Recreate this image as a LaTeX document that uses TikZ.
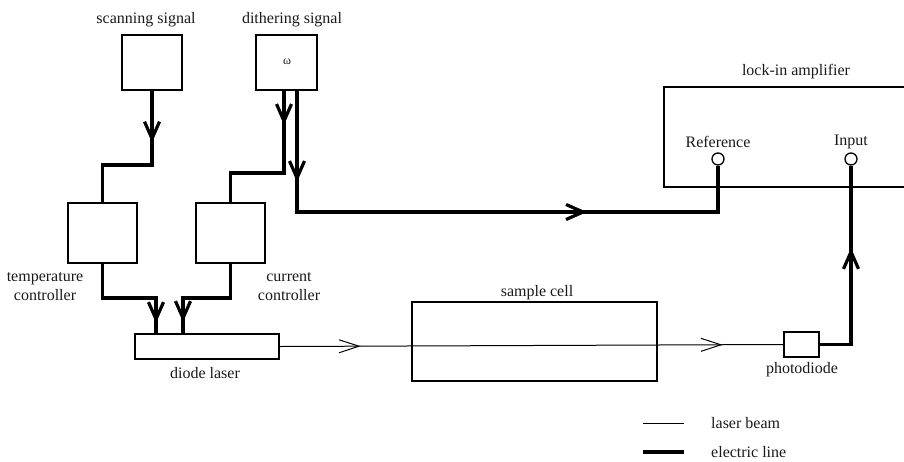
\documentclass[tikz,border=0pt]{standalone}
\usepackage{fontspec}
\setmainfont{Liberation Serif}
\usetikzlibrary{arrows.meta,decorations.markings}

\tikzset{
  box/.style={draw, line width=1.2pt, inner sep=0pt},
  lbl/.style={font=\fontsize{16}{19}\selectfont, inner sep=0pt, align=center, text=black!90},
  eline/.style={line width=3.2pt},
  beam/.style={line width=1pt},
  barb/.tip={Straight Barb[length=17pt,width=15pt]},
  beambarb/.tip={Straight Barb[length=20pt,width=13pt]},
  markarrow/.style={postaction={decorate, decoration={markings,
      mark=at position #1 with {\arrow{barb}}}}},
  beamarrow/.style={postaction={decorate, decoration={markings,
      mark=at position #1 with {\arrow{beambarb}}}}},
  jack/.style={circle, draw, line width=1.3pt, minimum size=12pt, inner sep=0pt},
}

\begin{document}
\begin{tikzpicture}[x=1pt, y=-1pt]
\useasboundingbox (0,0) rectangle (904,461);
\clip (0,0) rectangle (904,461);

% signal generators
\node[box, minimum width=60pt, minimum height=55pt] (scan) at (152,62.5) {};
\node[box, minimum width=61pt, minimum height=55pt] (dither) at (286.5,62.5) {};
\node[lbl, font=\fontsize{12}{13}\selectfont] (omega) at (287,62) {ω};
\node[lbl] (scanlbl) at (146,20) {scanning signal};
\node[lbl] (ditherlbl) at (292,20) {dithering signal};

% controllers
\node[box, minimum width=69pt, minimum height=60pt] (temp) at (102.5,233) {};
\node[box, minimum width=69pt, minimum height=60pt] (curr) at (230.5,233) {};
\node[lbl] (templbl) at (45,287) {temperature\\controller};
\node[lbl] (currlbl) at (289,287) {current\\controller};

% laser, cell, detector
\node[box, minimum width=144pt, minimum height=25pt] (laser) at (207,346.5) {};
\node[lbl] (laserlbl) at (205,373) {diode laser};
\node[box, minimum width=245pt, minimum height=79pt] (cell) at (534.5,341.5) {};
\node[lbl] (celllbl) at (537,293) {sample cell};
\node[box, minimum width=35pt, minimum height=25pt] (pd) at (801.5,344.5) {};
\node[lbl] (pdlbl) at (802,370) {photodiode};

% lock-in amplifier
\node[box, minimum width=246pt, minimum height=100pt] (lockin) at (787,137) {};
\node[lbl] (lockinlbl) at (796,72) {lock-in amplifier};
\node[jack] (refjack) at (718,159) {};
\node[jack] (injack) at (851,159) {};
\node[lbl] (reflbl) at (718,142) {Reference};
\node[lbl] (inlbl) at (851,142) {Input};

% electric lines
\draw[eline, markarrow=52pt] (scan.south) -- (152,165) -| (temp.north);
\draw[eline, markarrow=35pt] (284,90) -- (284,173) -| (curr.north);
\draw[eline, markarrow=92pt, markarrow=412pt] (297,90) -- (297,212) -| (refjack.south);
\draw[eline, markarrow=113pt] (temp.south) |- (156,298) -- (156,334);
\draw[eline, markarrow=106pt] (curr.south) |- (183,298) -- (183,334);
\draw[eline, markarrow=128pt] (pd.east) -| (injack.south);

% laser beam
\draw[beam, beamarrow=81pt, beamarrow=443pt] (laser.east) -- (pd.west);

% legend
\coordinate (lb1) at (643,423);
\coordinate (lb2) at (684,423);
\coordinate (le1) at (643,452);
\coordinate (le2) at (684,452);
\draw[beam] (lb1) -- (lb2);
\draw[eline] (le1) -- (le2);
\node[lbl, anchor=west] (beamlbl) at (711,423) {laser beam};
\node[lbl, anchor=west] (elbl) at (711,452) {electric line};
\end{tikzpicture}
\end{document}
